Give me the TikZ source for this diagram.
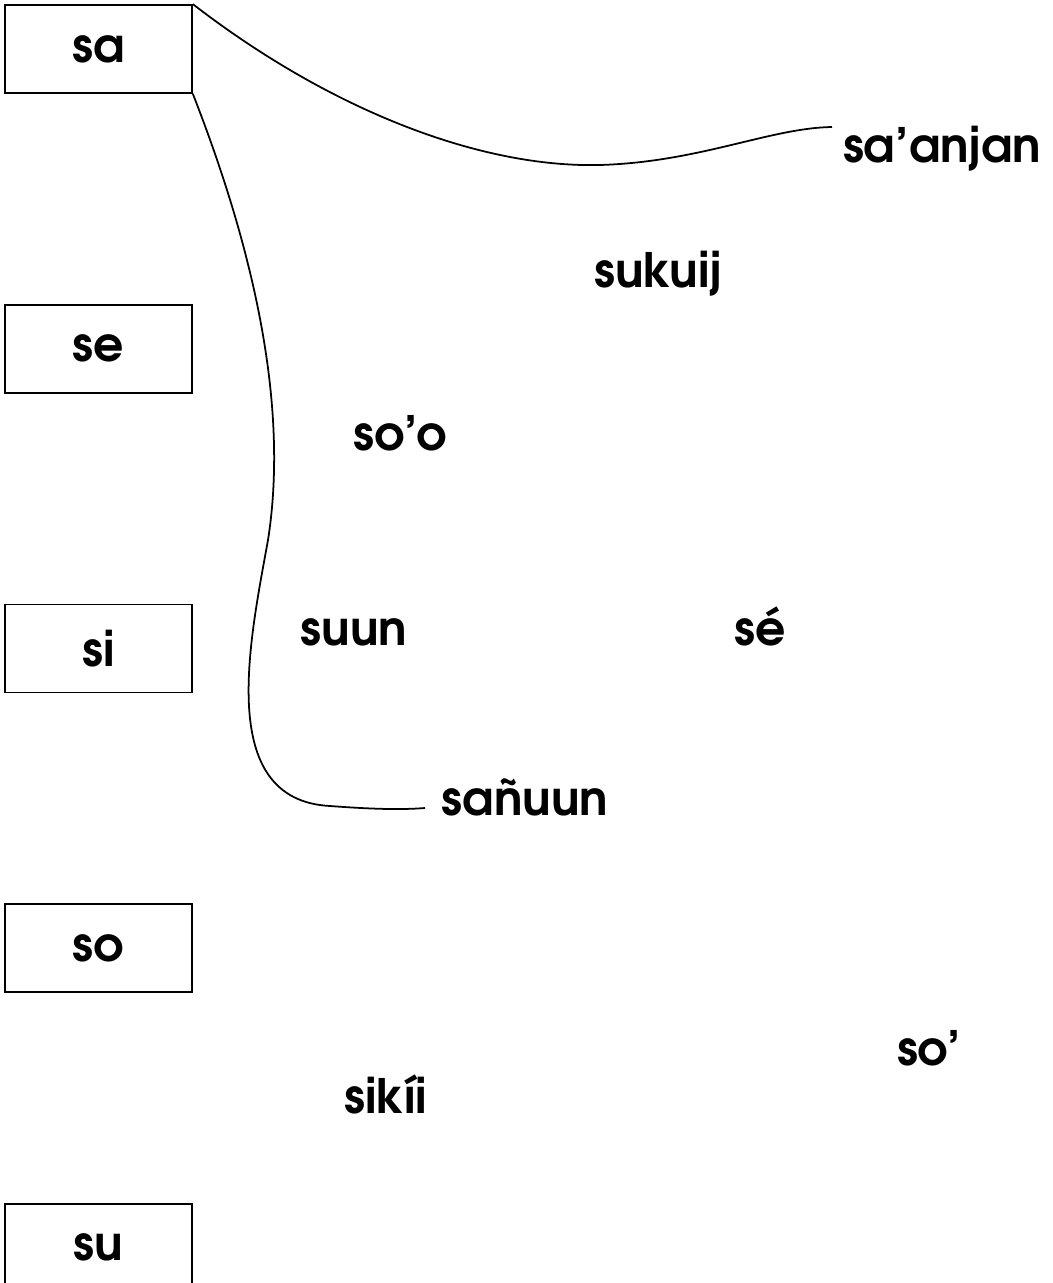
\documentclass[tikz,border=0pt]{standalone}
\usepackage{fontspec}
\setmainfont{TeX Gyre Adventor}
\usepackage{tikz}
\usetikzlibrary{positioning}

\begin{document}
\begin{tikzpicture}[
        x=0.02cm, y=-0.02cm,
        node distance = 4.2cm,
        syl/.style = {draw, rectangle, minimum width=3.74cm, minimum height=1.76cm, align=center, font=\fontsize{27}{32}\selectfont\bfseries, line width=1pt},
        word/.style = {anchor=base, inner sep=0pt, font=\fontsize{27}{32}\selectfont\bfseries},
        link/.style = {draw=black, line width=1pt}
    ]
        \useasboundingbox (0,0) rectangle (1052,1283);

        \node (sa) [syl] at (98.5,49) {sa};
        \node (se) [syl, below=of sa] {se};
        \node (si) [syl, below=of se] {si};
        \node (so) [syl, below=of si] {so};
        \node (su) [syl, below=of so] {su};

        \node (saanjan) [word] at (942,163) {sa’anjan};
        \node (sukuij) [word] at (658,288) {sukuij};
        \node (soo) [word] at (400,450) {so’o};
        \node (suun) [word] at (354,645) {suun};
        \node (see) [word] at (760,645) {sé};
        \node (sanuun) [word] at (525,815) {sañuun};
        \node (sooo) [word] at (929,1065) {so’};
        \node (sikii) [word] at (386,1113) {sikíi};

        \coordinate (endA) at (832,127);
        \coordinate (endB) at (425,808);

        % curved links
        \draw[link] (sa.north east) .. controls (330,110) and (480,168) .. (600,165) .. controls (700,162) and (770,128) .. (endA);
        \draw[link] (sa.south east) .. controls (250,240) and (290,400) .. (268,540) .. controls (250,640) and (215,800) .. (330,806) .. controls (370,809) and (400,810) .. (endB);

    \end{tikzpicture}
\end{document}
